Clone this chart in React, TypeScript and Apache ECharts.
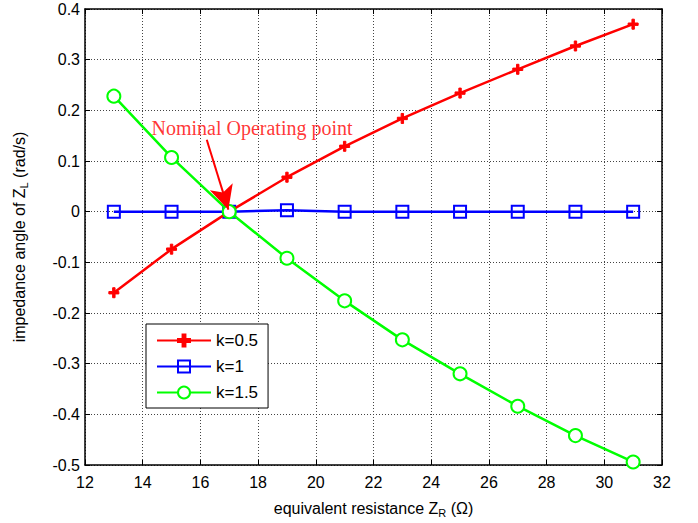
import React, { useEffect, useRef } from "react";
import * as echarts from "echarts";

const xValues = [13, 15, 17, 19, 21, 23, 25, 27, 29, 31];
const k05 = [-0.16, -0.074, 0, 0.068, 0.129, 0.184, 0.234, 0.281, 0.327, 0.37];
const k1 = [0, 0, 0, 0.003, 0, 0, 0, 0, 0, 0];
const k15 = [0.228, 0.107, 0, -0.092, -0.176, -0.253, -0.32, -0.384, -0.442, -0.494];
const seriesNames = ["k=0.5", "k=1", "k=1.5"];
const annotationText = "Nominal Operating point";
const annotationAt = [17.79, 0.166];
const arrowFrom = [16.22, 0.142];
const arrowTo = [16.97, 0.004];

const plusPath = "path://M-1.2,-5L1.2,-5L1.2,-1.2L5,-1.2L5,1.2L1.2,1.2L1.2,5L-1.2,5L-1.2,1.2L-5,1.2L-5,-1.2L-1.2,-1.2Z";

export default function App() {
  const ref = useRef<HTMLDivElement>(null);
  useEffect(() => {
    const chart = echarts.init(ref.current!, null, { renderer: "svg" });
    const font = "Liberation Sans, Arial, sans-serif";
    const mk = (data: number[]) => xValues.map((x, i) => [x, data[i]]);
    const axisCommon = {
      axisLine: { show: true, onZero: false, lineStyle: { color: "#000", width: 1.5 } },
      axisTick: { show: true, inside: true, length: 5, lineStyle: { color: "#000" } },
    };
    const rich = {
      n: { fontSize: 16, fontFamily: font, color: "#000" },
      s: { fontSize: 11, fontFamily: font, color: "#000", verticalAlign: "bottom", padding: [9, 0, 0, 0] },
    };
    chart.setOption({
      animation: false,
      backgroundColor: "#fff",
      grid: { left: 85, top: 9, width: 577, height: 456, containLabel: false },
      xAxis: [
        {
          type: "value", min: 12, max: 32, interval: 2, position: "bottom",
          ...axisCommon,
          axisLabel: { color: "#000", fontSize: 16, fontFamily: font, margin: 9 },
          splitLine: { show: true, lineStyle: { color: "#444", type: [1, 2], width: 1 } },
          name: "{n|equivalent resistance Z}{s|R}{n| (Ω)}",
          nameLocation: "middle", nameGap: 33,
          nameTextStyle: { rich },
        },
        {
          type: "value", min: 12, max: 32, interval: 2, position: "top",
          ...axisCommon, axisLabel: { show: false }, splitLine: { show: false },
        },
      ],
      yAxis: [
        {
          type: "value", min: -0.5, max: 0.4, interval: 0.1, position: "left",
          ...axisCommon,
          axisLabel: { color: "#000", fontSize: 16, fontFamily: font, margin: 5, formatter: (v: number) => String(Math.round(v * 10) / 10) },
          splitLine: { show: true, lineStyle: { color: "#444", type: [1, 2], width: 1 } },
          name: "{n|impedance angle of Z}{s|L}{n| (rad/s)}",
          nameLocation: "middle", nameGap: 56, nameRotate: 90,
          nameTextStyle: { rich },
        },
        {
          type: "value", min: -0.5, max: 0.4, interval: 0.1, position: "right",
          ...axisCommon, axisLabel: { show: false }, splitLine: { show: false },
        },
      ],
      legend: {
        data: seriesNames,
        orient: "vertical",
        left: 146, top: 324,
        padding: [8, 10, 7, 10],
        itemGap: 9,
        itemWidth: 54, itemHeight: 15,
        backgroundColor: "#fff",
        borderColor: "#000", borderWidth: 1, borderRadius: 0,
        textStyle: { fontSize: 17, fontFamily: font, color: "#000" },
      },
      series: [
        {
          name: seriesNames[0], type: "line", data: mk(k05), color: "#ff0000",
          lineStyle: { width: 2.5, color: "#ff0000" },
          symbol: plusPath, symbolSize: 10,
          itemStyle: { color: "#ff0000", borderColor: "#ff0000", borderWidth: 1 },
          z: 3,
        },
        {
          name: seriesNames[1], type: "line", data: mk(k1), color: "#0000ff",
          lineStyle: { width: 2.5, color: "#0000ff" },
          symbol: "rect", symbolSize: 12,
          itemStyle: { color: "rgba(0,0,0,0)", borderColor: "#0000ff", borderWidth: 2 },
          z: 2,
        },
        {
          name: seriesNames[2], type: "line", data: mk(k15), color: "#00ff00",
          lineStyle: { width: 2.5, color: "#00ff00" },
          symbol: "emptyCircle", symbolSize: 13,
          itemStyle: { color: "#00ff00", borderColor: "#00ff00", borderWidth: 2.5 },
          z: 4,
        },
        {
          name: "annotation", type: "scatter", data: [annotationAt],
          symbolSize: 0, silent: true,
          label: {
            show: true, position: "inside", formatter: annotationText,
            fontFamily: "Liberation Serif, Times New Roman, serif", fontSize: 20, color: "#ff0000",
          },
          markLine: {
            silent: true, symbol: ["none", "arrow"], symbolSize: [18, 24],
            lineStyle: { color: "#ff0000", width: 2, type: "solid" },
            label: { show: false },
            data: [[{ coord: arrowFrom }, { coord: arrowTo }]],
          },
          z: 5,
        },
      ],
    });
    return () => chart.dispose();
  }, []);
  return <div ref={ref} style={{ width: 698, height: 523, position: "absolute", left: 0, top: 0 }} />;
}
